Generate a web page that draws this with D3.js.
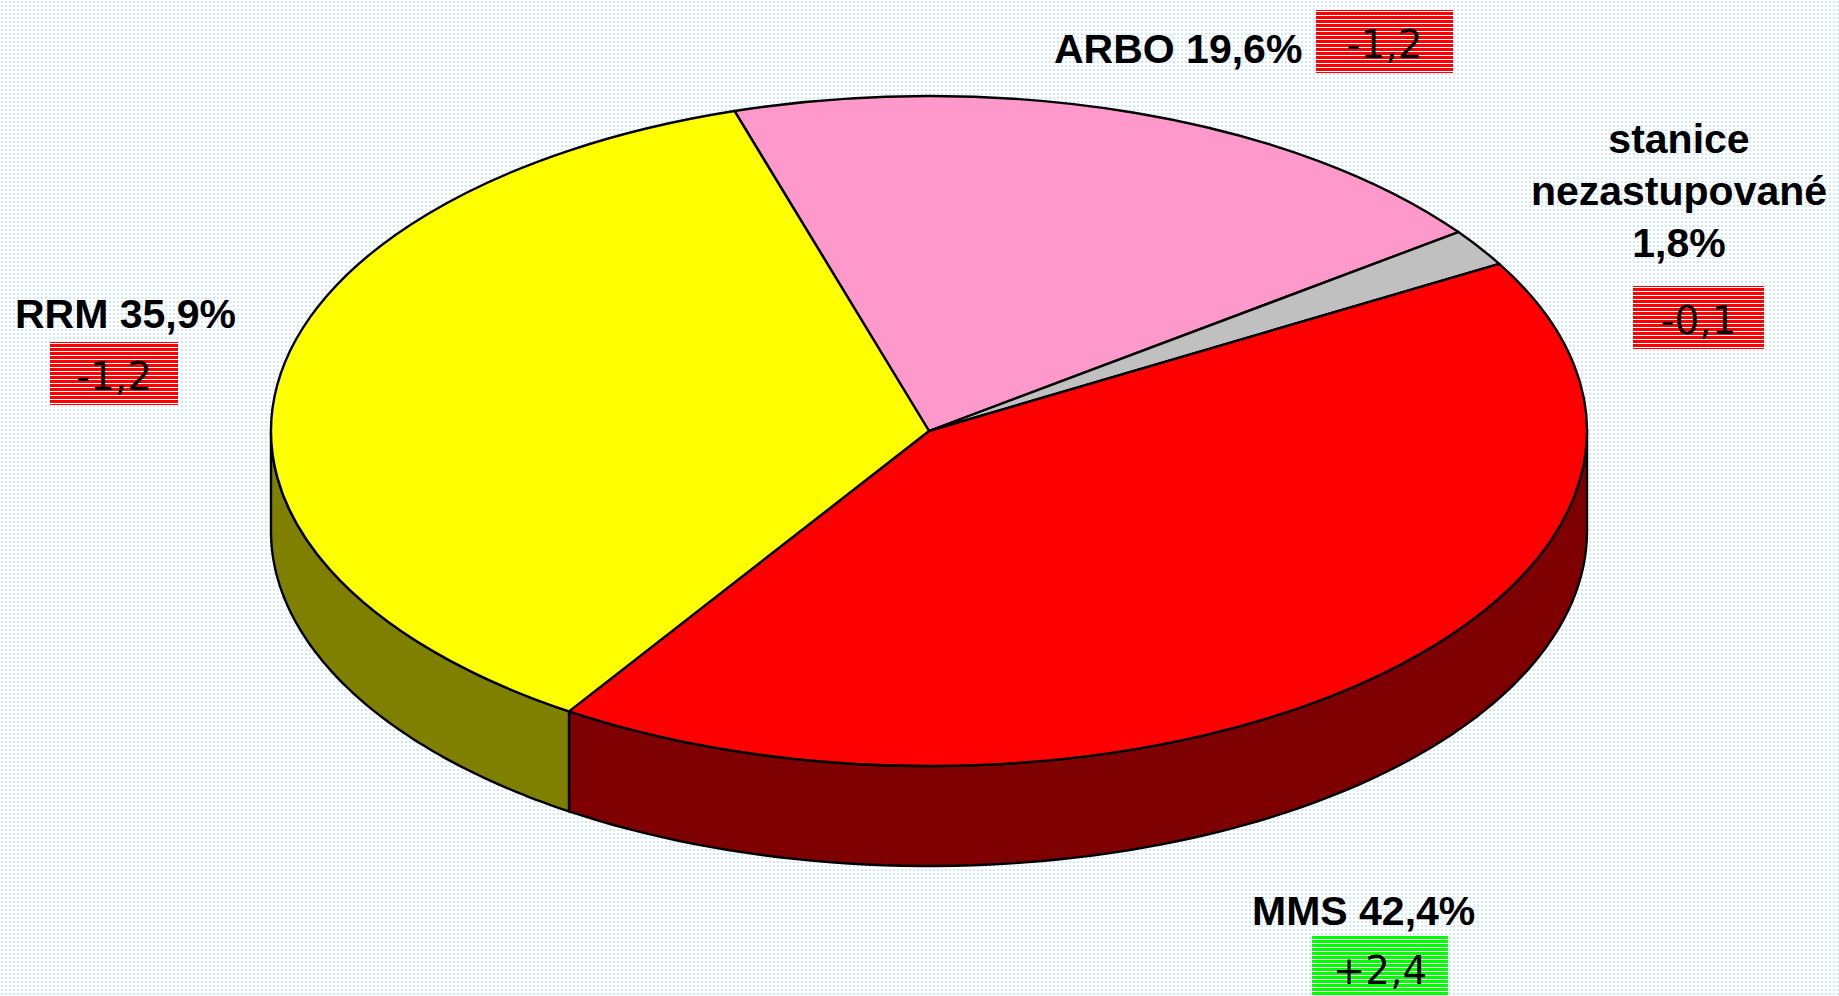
<!DOCTYPE html>
<meta charset="utf-8">
<title>Podíl na trhu</title>
<style>
body { margin: 0; background: #fff; }
svg { display: block; }
.lbl { font: bold 41px "Liberation Sans", Arial, sans-serif; fill: #000; }
.chg { font: 39px "DejaVu Sans", Verdana, sans-serif; fill: #000; text-anchor: middle; }
.face, .side { stroke: #000; stroke-width: 2.4px; stroke-linejoin: round; }
</style>
<svg width="1839" height="996"></svg>
<script src="https://d3js.org/d3.v7.min.js"></script>
<script>
// data
var names   = ["ARBO", "stanice nezastupované", "MMS", "RRM"];
var shares  = [19.6, 1.8, 42.4, 35.9];
var changes = ["-1,2", "-0,1", "+2,4", "-1,2"];
var topCol  = ["#ff99cc", "#c0c0c0", "#ff0000", "#ffff00"];
var sideCol = ["#cc6699", "#808080", "#7f0000", "#808000"];

var svg = d3.select("svg"),
    W = +svg.attr("width"), H = +svg.attr("height");

var cx = 929, cy = 431, rx = 658, ry = 335, depth = 100;

// background dots + stripe fills
var defs = svg.append("defs");
var dots = defs.append("pattern").attr("id", "dots")
    .attr("width", 4).attr("height", 4).attr("patternUnits", "userSpaceOnUse");
dots.append("rect").attr("width", 4).attr("height", 4).attr("fill", "#ffffff");
dots.append("rect").attr("x", 1).attr("y", 1).attr("width", 2).attr("height", 2).attr("fill", "#cfe7fc");

function stripes(id, c) {
  var p = defs.append("pattern").attr("id", id)
      .attr("width", 8).attr("height", 4).attr("patternUnits", "userSpaceOnUse");
  p.append("rect").attr("width", 8).attr("height", 4).attr("fill", c);
  p.append("rect").attr("y", 3).attr("width", 8).attr("height", 1).attr("fill", "#fff");
}
stripes("redStripe", "#ff0000");
stripes("greenStripe", "#00ff00");

svg.append("rect").attr("width", W).attr("height", H).attr("fill", "url(#dots)");

var pie = d3.pie().sort(null)
    .startAngle(-17.2 * Math.PI / 180)
    .endAngle(-17.2 * Math.PI / 180 + 2 * Math.PI);
var arcs = pie(shares);

// ellipse point for d3 angle (0 = top, clockwise)
function pt(a, dz) { return [cx + rx * Math.sin(a), cy - ry * Math.cos(a) + dz]; }

var g = svg.append("g");

// side walls (front half only: pi/2 .. 3pi/2)
arcs.forEach(function(d, i) {
  var lo = Math.max(d.startAngle, Math.PI / 2),
      hi = Math.min(d.endAngle, 3 * Math.PI / 2);
  if (hi <= lo) return;
  var n = 80, topPts = [], botPts = [];
  for (var k = 0; k <= n; k++) {
    var a = lo + (hi - lo) * k / n;
    topPts.push(pt(a, 0));
    botPts.push(pt(a, depth));
  }
  var poly = topPts.concat(botPts.reverse());
  g.append("path").attr("class", "side")
    .attr("d", d3.line()(poly) + "Z")
    .attr("fill", sideCol[i]);
});

// top faces: circular arc squashed to an ellipse
var arc = d3.arc().innerRadius(0).outerRadius(rx);
g.selectAll(".face").data(arcs).enter().append("path")
  .attr("class", "face")
  .attr("transform", "translate(" + cx + "," + cy + ") scale(1," + (ry / rx) + ")")
  .attr("vector-effect", "non-scaling-stroke")
  .attr("d", arc)
  .attr("fill", function(d, i) { return topCol[i]; });

// labels
function fmt(v) { return String(v).replace(".", ",") + "%"; }

function box(x, y, w, txt, fill) {
  svg.append("rect").attr("x", x).attr("y", y).attr("width", w).attr("height", 63)
    .attr("fill", fill);
  svg.append("text").attr("class", "chg").attr("x", x + w / 2).attr("y", y + 48).text(txt);
}

// ARBO
svg.append("text").attr("class", "lbl").attr("x", 1054).attr("y", 63)
  .text(names[0] + " " + fmt(shares[0]));
box(1316, 10, 137, changes[0], "url(#redStripe)");

// stanice nezastupované
var st = svg.append("text").attr("class", "lbl").attr("text-anchor", "middle");
["stanice", "nezastupované", fmt(shares[1])].forEach(function(s, k) {
  st.append("tspan").attr("x", 1679).attr("y", 153 + k * 52).text(s);
});
box(1633, 286, 131, changes[1], "url(#redStripe)");

// MMS
svg.append("text").attr("class", "lbl").attr("x", 1252).attr("y", 925)
  .text(names[2] + " " + fmt(shares[2]));
box(1312, 936, 136, changes[2], "url(#greenStripe)");

// RRM
svg.append("text").attr("class", "lbl").attr("x", 15).attr("y", 328)
  .text(names[3] + " " + fmt(shares[3]));
box(50, 342, 128, changes[3], "url(#redStripe)");
</script>
